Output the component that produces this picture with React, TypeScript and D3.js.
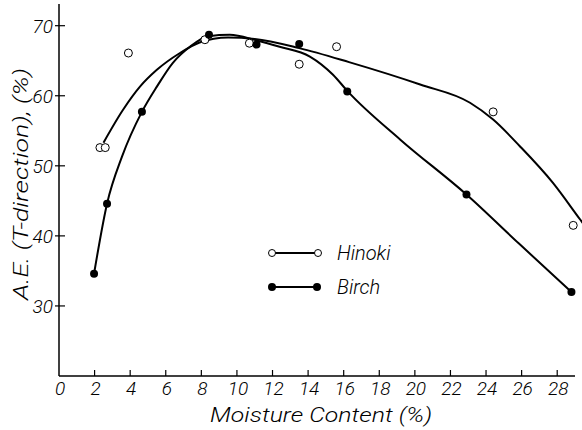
import React from 'react';
import * as d3 from 'd3';

// measured points
const hinokiX = [2.3, 2.6, 3.9, 8.2, 10.7, 13.5, 15.6, 24.4, 28.9];
const hinokiY = [52.6, 52.6, 66.1, 68.0, 67.5, 64.5, 67.0, 57.7, 41.5];
const birchX = [1.97, 2.7, 4.66, 8.43, 11.1, 13.5, 16.2, 22.9, 28.8];
const birchY = [34.6, 44.6, 57.7, 68.7, 67.3, 67.4, 60.6, 45.9, 32.0];

// hand-drawn fitted curves (knots)
const hinokiCurveX = [2.5, 3.6, 4.55, 5.5, 6.8, 7.9, 9.5, 11, 13.5, 16.3, 20.3, 23.1, 24.4, 25.9, 27.75, 29.3, 29.8];
const hinokiCurveY = [53.3, 58.0, 61.3, 63.7, 66.1, 67.6, 68.3, 68.1, 66.8, 64.8, 61.6, 59.0, 56.6, 52.8, 47.6, 42.3, 40.6];
const birchCurveX = [1.97, 2.7, 3.54, 4.66, 5.5, 6.4, 7.36, 8.4, 9.6, 11.1, 12.4, 14.1, 15.4, 16.2, 19.2, 22.9, 25.85, 28.8];
const birchCurveY = [34.6, 44.6, 51.3, 57.7, 61.3, 64.7, 67.0, 68.5, 68.7, 67.9, 67.0, 65.6, 63.0, 60.7, 53.7, 45.9, 38.9, 32.0];

const xTicks = [0, 2, 4, 6, 8, 10, 12, 14, 16, 18, 20, 22, 24, 26, 28];
const yTicks = [30, 40, 50, 60, 70];

const font = "Roboto, 'DejaVu Sans Condensed', sans-serif";

export default function App() {
  const width = 582;
  const height = 430;
  const x = d3.scaleLinear().domain([0, 29]).range([59, 575]);
  const y = d3.scaleLinear().domain([20, 70]).range([376, 25.7]);
  const line = d3.line<[number, number]>()
    .x(d => x(d[0]))
    .y(d => y(d[1]))
    .curve(d3.curveMonotoneX);

  const hCurve = hinokiCurveX.map((v, i) => [v, hinokiCurveY[i]] as [number, number]);
  const bCurve = birchCurveX.map((v, i) => [v, birchCurveY[i]] as [number, number]);

  const txt = { fontFamily: font, fontStyle: 'italic', fontWeight: 300 } as React.CSSProperties;

  return (
    <svg width={width} height={height} style={{ position: 'absolute', left: 0, top: 0, background: '#fff' }}>
      <rect width={width} height={height} fill="#fff" />
      {/* axes */}
      <line x1={x(0)} x2={x(0)} y1={4} y2={y(20)} stroke="#000" strokeWidth={1.5} />
      <line x1={x(0)} x2={575} y1={y(20)} y2={y(20)} stroke="#000" strokeWidth={1.5} />
      {xTicks.map(t => (
        <g key={'x' + t}>
          {t > 0 && <line x1={x(t)} x2={x(t)} y1={y(20)} y2={y(20) - 6} stroke="#000" strokeWidth={1.2} />}
          <text x={x(t) + 1} y={395} textAnchor="middle" style={txt} fontSize={19}>{t}</text>
        </g>
      ))}
      {yTicks.map(t => (
        <g key={'y' + t}>
          <line x1={x(0) - 4} x2={x(0) + 6} y1={y(t)} y2={y(t)} stroke="#000" strokeWidth={1.2} />
          <text x={53} y={y(t) + 7} textAnchor="end" style={txt} fontSize={19}>{t}</text>
        </g>
      ))}
      <text x={321} y={422} textAnchor="middle" style={txt} fontSize={21} textLength={222} lengthAdjust="spacingAndGlyphs">Moisture Content (%)</text>
      <text transform={`translate(28,184) rotate(-90)`} textAnchor="middle" style={txt} fontSize={20} textLength={232} lengthAdjust="spacingAndGlyphs">A.E. (T-direction), (%)</text>

      {/* curves */}
      <path d={line(hCurve) || ''} fill="none" stroke="#000" strokeWidth={2} />
      <path d={line(bCurve) || ''} fill="none" stroke="#000" strokeWidth={2} />

      {hinokiX.map((v, i) => (
        <circle key={'h' + i} cx={x(v)} cy={y(hinokiY[i])} r={4} fill="#fff" stroke="#000" strokeWidth={1} />
      ))}
      {birchX.map((v, i) => (
        <circle key={'b' + i} cx={x(v)} cy={y(birchY[i])} r={4} fill="#000" />
      ))}

      {/* legend */}
      <line x1={272} x2={318} y1={253} y2={253} stroke="#000" strokeWidth={2} />
      <circle cx={272} cy={253} r={3.5} fill="#fff" stroke="#000" />
      <circle cx={318} cy={253} r={3.5} fill="#fff" stroke="#000" />
      <text x={337} y={260} style={txt} fontSize={20}>Hinoki</text>
      <line x1={272} x2={317} y1={287} y2={287} stroke="#000" strokeWidth={2} />
      <circle cx={272} cy={287} r={4} fill="#000" />
      <circle cx={317} cy={287} r={4} fill="#000" />
      <text x={337} y={294} style={txt} fontSize={20}>Birch</text>
    </svg>
  );
}
